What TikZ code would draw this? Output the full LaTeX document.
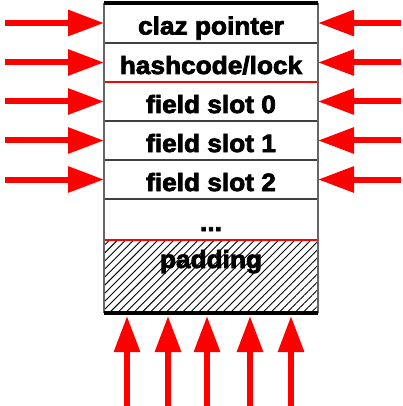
\documentclass[tikz,border=0pt]{standalone}
\usepackage{fontspec}
\newfontfamily\slotfont{Liberation Sans}[FakeStretch=1.05,BoldFeatures={FakeBold=3}]
\usetikzlibrary{arrows.meta,positioning,patterns.meta}

\begin{document}
\begin{tikzpicture}[x=1pt,y=-1pt,
  slot/.style={minimum width=214pt,minimum height=39pt,inner sep=0pt,outer sep=0pt,
    text height=23pt,text depth=0pt,font=\slotfont\fontsize{25}{30}\selectfont\bfseries},
  push/.style={draw=red,line width=6pt,-{Triangle[length=36pt,width=25pt]}},
  divider/.style={draw=black!75,line width=2pt},
  redline/.style={draw=red,line width=2.5pt},
  sideline/.style={draw=black!60,line width=2.5pt}]
  \useasboundingbox (0,0) rectangle (402,406);
  % object layout, one row per word
  \node[slot,minimum height=40pt,anchor=north] (claz) at (211,3) {claz pointer};
  \node[slot,below=0pt of claz] (hash) {hashcode/lock};
  \node[slot,below=0pt of hash] (f0) {field slot 0};
  \node[slot,below=0pt of f0] (f1) {field slot 1};
  \node[slot,below=0pt of f1] (f2) {field slot 2};
  \node[slot,minimum height=41pt,below=0pt of f2] (dots) {...};
  \node[slot,minimum height=73pt,text height=18pt,text depth=35pt,below=0pt of dots,
    pattern={Lines[angle=45,distance=5.7pt,line width=0.9pt]}] (pad) {padding};
  % row borders
  \foreach \r in {claz,f0,f1,f2} \draw[divider] (\r.south west) -- (\r.south east);
  \foreach \r in {hash,dots} \draw[redline] (\r.south west) -- (\r.south east);
  \draw[sideline] (claz.north west) -- (pad.south west);
  \draw[sideline] (claz.north east) -- (pad.south east);
  \draw[line width=4pt] (claz.north west) -- (claz.north east);
  \draw[line width=4pt] (pad.south west) -- (pad.south east);
  % accesses from both sides
  \foreach \r in {claz,hash,f0,f1,f2} {
    \path (\r.west) ++(-99,0) coordinate (\r-l);
    \path (\r.east) ++(83,0) coordinate (\r-r);
    \draw[push] (\r-l) -- (\r.west);
    \draw[push] (\r-r) -- (\r.east);
  }
  % accesses from below
  \foreach \x [count=\i] in {127,168,207,250,291} {
    \coordinate (up\i) at (\x,406);
    \draw[push,shorten >=3pt] (up\i) -- (up\i |- pad.south);
  }
\end{tikzpicture}
\end{document}
